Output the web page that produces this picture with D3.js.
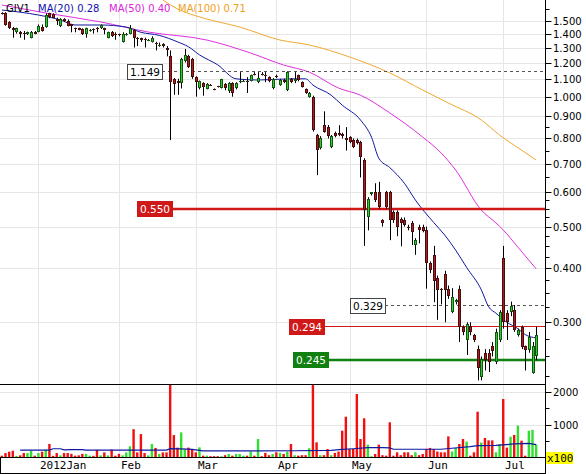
<!DOCTYPE html>
<html><head><meta charset="utf-8">
<script src="https://cdn.jsdelivr.net/npm/d3@7"></script>
<style>body{margin:0;background:#fff;} svg{display:block;}</style>
</head><body><svg id="c" width="586" height="474"></svg>
<script>
// ---------- DATA ----------
const open  = [1.56,1.563,1.49,1.445,1.41,1.415,1.405,1.40,1.37,1.415, 1.415,1.45,1.45,1.56,1.555,1.51,1.455,1.51,1.50,1.47, 1.44,1.44,1.435,1.40,1.425,1.435,1.445,1.44,1.44,1.37, 1.415,1.40,1.395,1.34,1.395,1.40,1.43,1.37,1.365,1.36, 1.35,1.34,1.335,1.31,1.325,1.30,1.24,1.10,1.09,1.075, 1.21,1.24,1.22,1.11,1.047,1.075,1.042,1.066,1.042,1.056, 1.047,1.07,1.03,1.075,1.045,1.08,1.09,1.09,1.09,1.13, 1.08,1.13,1.12,1.11,1.045,1.115,1.064,1.093,1.036,1.10, 1.09,1.122,1.08,1.04,0.998,0.998,0.815,0.76,0.859,0.85, 0.765,0.826,0.826,0.82,0.80,0.806,0.793,0.793,0.785,0.713, 0.525,0.595,0.60,0.60,0.518,0.60,0.60,0.54,0.54,0.52, 0.518,0.50,0.51,0.453,0.50,0.50,0.491,0.411,0.43,0.38, 0.359,0.388,0.359,0.317,0.335,0.359,0.292,0.273,0.294,0.28, 0.26,0.224,0.255,0.255,0.264,0.243,0.273,0.423,0.316,0.317, 0.32,0.281,0.292,0.264,0.259,0.229,0.25];
const high  = [1.57,1.57,1.495,1.45,1.445,1.42,1.42,1.415,1.42,1.42, 1.47,1.47,1.56,1.565,1.56,1.525,1.52,1.52,1.51,1.475, 1.445,1.445,1.44,1.445,1.435,1.44,1.45,1.47,1.445,1.415, 1.42,1.41,1.40,1.41,1.405,1.465,1.435,1.375,1.37,1.37, 1.36,1.38,1.34,1.335,1.33,1.31,1.28,1.105,1.10,1.23, 1.29,1.25,1.23,1.115,1.09,1.08,1.075,1.07,1.045,1.06, 1.10,1.075,1.08,1.08,1.08,1.14,1.095,1.11,1.125,1.14, 1.14,1.14,1.14,1.115,1.105,1.125,1.10,1.10,1.145,1.105, 1.14,1.125,1.085,1.045,1.025,1.005,0.82,0.81,0.925,0.86, 0.815,0.83,0.859,0.825,0.85,0.81,0.80,0.80,0.79,0.72, 0.585,0.60,0.63,0.635,0.52,0.605,0.605,0.545,0.545,0.525, 0.525,0.505,0.515,0.47,0.505,0.505,0.50,0.415,0.451,0.385, 0.36,0.395,0.365,0.36,0.34,0.365,0.295,0.30,0.30,0.282, 0.265,0.25,0.26,0.26,0.27,0.29,0.32,0.451,0.32,0.335, 0.329,0.29,0.295,0.265,0.285,0.27,0.293];
const low   = [1.55,1.46,1.435,1.37,1.40,1.37,1.355,1.39,1.365,1.395, 1.41,1.415,1.445,1.52,1.52,1.465,1.45,1.49,1.455,1.41, 1.41,1.425,1.39,1.37,1.415,1.40,1.41,1.435,1.395,1.365, 1.375,1.355,1.38,1.335,1.385,1.395,1.30,1.31,1.34,1.30, 1.345,1.335,1.28,1.305,1.30,1.24,0.793,1.01,1.01,1.045, 1.20,1.165,1.10,1.00,1.04,1.005,1.04,1.06,1.035,1.05, 1.045,1.035,1.02,1.00,1.04,1.075,1.085,1.02,1.085,1.12, 1.075,1.12,1.08,1.08,1.04,1.105,1.06,1.075,1.03,1.075, 1.075,1.085,1.05,1.015,0.995,0.83,0.658,0.755,0.825,0.80, 0.76,0.805,0.81,0.80,0.75,0.78,0.76,0.775,0.65,0.451, 0.49,0.59,0.57,0.55,0.50,0.55,0.465,0.51,0.475,0.45, 0.50,0.49,0.453,0.43,0.457,0.485,0.359,0.39,0.334,0.304, 0.33,0.30,0.34,0.315,0.33,0.27,0.28,0.252,0.28,0.27, 0.22,0.22,0.232,0.23,0.25,0.24,0.27,0.29,0.273,0.31, 0.285,0.278,0.26,0.232,0.255,0.228,0.245];
const close = [1.555,1.466,1.44,1.43,1.44,1.40,1.40,1.41,1.415,1.40, 1.46,1.42,1.545,1.53,1.525,1.50,1.515,1.50,1.46,1.46, 1.435,1.43,1.40,1.44,1.43,1.43,1.44,1.465,1.425,1.41, 1.38,1.395,1.39,1.40,1.40,1.44,1.37,1.365,1.355,1.355, 1.352,1.37,1.325,1.32,1.31,1.285,1.08,1.07,1.075,1.22, 1.25,1.17,1.11,1.08,1.086,1.055,1.071,1.064,1.04,1.055, 1.099,1.05,1.075,1.02,1.075,1.085,1.09,1.088,1.12,1.128, 1.105,1.125,1.115,1.085,1.10,1.11,1.093,1.08,1.14,1.08, 1.10,1.093,1.055,1.02,1.02,0.837,0.752,0.80,0.83,0.81, 0.81,0.81,0.815,0.81,0.795,0.785,0.765,0.78,0.725,0.546, 0.58,0.60,0.575,0.555,0.51,0.555,0.518,0.518,0.50,0.51, 0.504,0.498,0.487,0.465,0.49,0.488,0.411,0.397,0.374,0.357, 0.357,0.357,0.345,0.343,0.338,0.292,0.285,0.298,0.285,0.273, 0.235,0.247,0.245,0.243,0.257,0.285,0.317,0.30,0.30,0.327, 0.288,0.288,0.263,0.259,0.278,0.264,0.281];
// volume in units of x100
const volume = [55,135,175,205,50,65,135,135,205,55, 135,175,240,410,50,135,65,135,135,110, 55,65,110,110,55,50,230,65,155,65, 240,55,110,65,155,340,860,155,710,135, 65,410,290,110,155,155,2300,680,300,760, 250,300,258,157,308,55,55,40,40,40, 40,70,106,55,106,106,55,55,180,55, 560,40,140,70,106,157,140,106,180,410, 70,55,70,70,280,2300,460,70,70,258, 70,140,180,812,1237,253,258,1924,560,1187, 390,40,106,390,70,55,1067,55,157,70, 157,157,70,157,70,106,258,290,258,180, 157,157,640,180,290,410,560,480,55,157, 1388,455,590,520,520,157,408,1773,300,631, 683,965,510,55,812,840,390];
// moving averages: [bar index, value]
const ma20  = [[0,1.588],[10,1.546],[16,1.506],[20,1.466],[27,1.466],[34,1.45],[38,1.41],[43,1.387],[48,1.34],[51,1.305],[54,1.25],[59,1.185],[64,1.10],[70,1.093],[79,1.10],[83,1.10],[85,1.064],[90,1.008],[93,0.956],[98,0.883],[101,0.806],[103,0.72],[106,0.685],[110,0.63],[113,0.576],[118,0.511],[121,0.478],[124,0.441],[127,0.402],[131,0.357],[133,0.326],[135,0.315],[138,0.30],[141,0.29],[143,0.281],[146,0.276]];
const ma50  = [[0,1.631],[12,1.563],[27,1.49],[40,1.412],[56,1.353],[68,1.262],[77,1.184],[84,1.14],[92,1.047],[98,1.008],[106,0.917],[115,0.806],[120,0.741],[124,0.676],[131,0.546],[135,0.51],[137,0.491],[141,0.448],[146,0.399]];
const ma100 = [[44,1.675],[48,1.597],[55,1.522],[65,1.45],[76,1.353],[84,1.318],[95,1.236],[106,1.135],[115,1.036],[122,0.967],[131,0.883],[136,0.815],[142,0.752],[146,0.713]];
const volMA = [[5,225],[13,225],[14,265],[16,265],[17,230],[19,240],[22,240],[23,225],[45,225],[46,270],[49,260],[52,245],[55,200],[70,200],[80,205],[90,215],[93,245],[96,265],[100,300],[104,300],[106,290],[107,250],[120,250],[123,280],[128,330],[130,360],[135,370],[140,410],[144,430],[146,390]];
const monthLabels = ["2012Jan","Feb","Mar","Apr","May","Jun","Jul"];
const monthStart  = [10,32,53,75,95,116,137];
const priceTicks  = [0.3,0.4,0.5,0.6,0.7,0.8,0.9,1.0,1.1,1.2,1.3,1.4,1.5];
const priceTickLabels = ["0.300","0.400","0.500","0.600","0.700","0.800","0.900","1.000","1.100","1.200","1.300","1.400","1.500"];
const priceMinor = [0.225,0.25,0.275,0.325,0.35,0.375,0.425,0.45,0.475,0.525,0.55,0.575,0.65,0.75,0.85,1.6];
const volTicks = [1000,2000];
const volTickLabels = ["1000","2000"];
const volMinor = [500,1500];
const levels = [1.149,0.550,0.329,0.294,0.245];
const levelLabels = ["1.149","0.550","0.329","0.294","0.245"];
const legendNames = ["GIV1","MA(20) 0.28","MA(50) 0.40","MA(100) 0.71"];

// ---------- DRAW ----------
const svg = d3.select("#c");
const W = 586, H = 474, AX = 545.5;
const N = open.length;
const x = d3.scaleBand().domain(d3.range(N)).range([0, 538]);
const cx = i => x(i) + x.bandwidth()/2;
const y = d3.scaleLog().domain([0.3, 1.5]).range([322.3, 20.7]);
const yv = d3.scaleLinear().domain([0, 2000]).range([457.5, 391.5]);
const font = "DejaVu Sans, Verdana, sans-serif";
const mono = "DejaVu Sans Mono, monospace";

svg.append("rect").attr("width", W).attr("height", H).attr("fill", "#fff");
const defs = svg.append("defs");
defs.append("clipPath").attr("id","cm").append("rect").attr("x",0).attr("y",0).attr("width",AX).attr("height",384);
defs.append("clipPath").attr("id","cv").append("rect").attr("x",0).attr("y",385).attr("width",AX).attr("height",72.5);
defs.append("clipPath").attr("id","cx").append("rect").attr("x",546).attr("y",452).attr("width",27).attr("height",12);

// grid
const grid = svg.append("g").attr("stroke","#e6e6e6").attr("stroke-width",1);
priceTicks.forEach(t => {
  const yy = Math.round(y(t)) + 0.5;
  grid.append("line").attr("x1",0).attr("x2",AX).attr("y1",yy).attr("y2",yy);
});
volTicks.forEach(t => {
  const yy = Math.round(yv(t)) + 0.5;
  grid.append("line").attr("x1",0).attr("x2",AX).attr("y1",yy).attr("y2",yy);
});
monthStart.forEach(i => {
  const xx = Math.round(cx(i)) + 0.5;
  grid.append("line").attr("x1",xx).attr("x2",xx).attr("y1",0).attr("y2",457);
});

// main panel
const gm = svg.append("g").attr("clip-path","url(#cm)");

// MA lines
const lineP = d3.line().x(d => cx(d[0])).y(d => y(d[1])).curve(d3.curveMonotoneX);
gm.append("path").attr("d", lineP(ma100)).attr("fill","none").attr("stroke","#f0a830").attr("stroke-width",1);
gm.append("path").attr("d", lineP(ma50)).attr("fill","none").attr("stroke","#e030e0").attr("stroke-width",1);
gm.append("path").attr("d", lineP(ma20)).attr("fill","none").attr("stroke","#1018a0").attr("stroke-width",1);

// level lines
const lvlStyle = [
  {line:"#555", w:1, dash:"3,3", box:"#fff", boxStroke:"#444", text:"#000", bx:127},
  {line:"#d01818", w:2.5, dash:null, box:"#d01818", boxStroke:"#d01818", text:"#fff", bx:137},
  {line:"#555", w:1, dash:"3,3", box:"#fff", boxStroke:"#444", text:"#000", bx:350},
  {line:"#d01818", w:1, dash:null, box:"#d01818", boxStroke:"#d01818", text:"#fff", bx:289},
  {line:"#108010", w:2.5, dash:null, box:"#108010", boxStroke:"#108010", text:"#fff", bx:293}
];
levels.forEach((v, k) => {
  const s = lvlStyle[k];
  const yy = Math.round(y(v)) + (s.w === 1 ? 0.5 : 0);
  const bw = 35;
  svg.append("line").attr("x1", s.bx + bw).attr("x2", AX).attr("y1", yy).attr("y2", yy)
    .attr("stroke", s.line).attr("stroke-width", s.w).attr("stroke-dasharray", s.dash);
  svg.append("rect").attr("x", s.bx + 0.5).attr("y", Math.round(yy) - 7.5).attr("width", bw).attr("height", 15)
    .attr("fill", s.box).attr("stroke", s.boxStroke);
  svg.append("text").attr("x", s.bx + bw/2 + 0.5).attr("y", Math.round(yy) + 4)
    .attr("text-anchor","middle").attr("font-family", font).attr("font-size", 10.5)
    .attr("fill", s.text).text(levelLabels[k]);
});

// candles
const gc = svg.append("g").attr("clip-path","url(#cm)");
d3.range(N).forEach(i => {
  const xc = Math.round(cx(i));
  const o = open[i], c = close[i], h = high[i], l = low[i];
  const up = c >= o;
  gc.append("line").attr("x1", xc + 0.5).attr("x2", xc + 0.5)
    .attr("y1", y(h)).attr("y2", y(l)).attr("stroke", "#000").attr("stroke-width", 1);
  const y1 = Math.round(y(Math.max(o, c))), y2 = Math.round(y(Math.min(o, c)));
  if (y2 - y1 < 2) {
    gc.append("line").attr("x1", xc - 1).attr("x2", xc + 2).attr("y1", y1 + 0.5).attr("y2", y1 + 0.5)
      .attr("stroke", up ? "#106010" : "#501010");
  } else {
    gc.append("rect").attr("x", xc - 0.5).attr("y", y1 + 0.5).attr("width", 2).attr("height", y2 - y1 - 1)
      .attr("fill", up ? "#3cc43c" : "#a81c1c").attr("stroke", up ? "#0c5a0c" : "#4a0c0c").attr("stroke-width", 1);
  }
});

// volume
const gv = svg.append("g").attr("clip-path","url(#cv)");
d3.range(N).forEach(i => {
  const up = close[i] >= open[i];
  const top = yv(volume[i]);
  gv.append("rect").attr("x", cx(i) - 1.2).attr("y", top).attr("width", 2.4).attr("height", yv(0) - top)
    .attr("fill", up ? "#30e030" : "#f01010");
});
const lineV = d3.line().x(d => cx(d[0])).y(d => yv(d[1]));
gv.append("path").attr("d", lineV(volMA)).attr("fill","none").attr("stroke","#1018a0").attr("stroke-width",1.2);

// frame
const fr = svg.append("g").attr("stroke","#000").attr("stroke-width",1);
fr.append("line").attr("x1",0).attr("x2",AX).attr("y1",384.5).attr("y2",384.5);
fr.append("line").attr("x1",0).attr("x2",AX).attr("y1",457.5).attr("y2",457.5);
fr.append("line").attr("x1",0).attr("x2",AX).attr("y1",473.5).attr("y2",473.5);
fr.append("line").attr("x1",0.5).attr("x2",0.5).attr("y1",457.5).attr("y2",474);
fr.append("line").attr("x1",AX).attr("x2",AX).attr("y1",0).attr("y2",474);

// right axis (price)
priceTicks.forEach((t, k) => {
  const yy = Math.round(y(t)) + 0.5;
  svg.append("line").attr("x1",AX).attr("x2",AX + 6).attr("y1",yy).attr("y2",yy).attr("stroke","#000");
  svg.append("text").attr("x", 553).attr("y", yy + 3.5).attr("font-family", font).attr("font-size", 10)
    .attr("fill","#000").text(priceTickLabels[k]);
});
priceMinor.forEach(t => {
  const yy = Math.round(y(t)) + 0.5;
  svg.append("line").attr("x1",AX).attr("x2",AX + 4).attr("y1",yy).attr("y2",yy).attr("stroke","#000");
});
// right axis (volume)
volTicks.forEach((t, k) => {
  const yy = Math.round(yv(t)) + 0.5;
  svg.append("line").attr("x1",AX).attr("x2",AX + 6).attr("y1",yy).attr("y2",yy).attr("stroke","#000");
  svg.append("text").attr("x", 553).attr("y", yy + 3.5).attr("font-family", font).attr("font-size", 10)
    .attr("fill","#000").text(volTickLabels[k]);
});
volMinor.forEach(t => {
  const yy = Math.round(yv(t)) + 0.5;
  svg.append("line").attr("x1",AX).attr("x2",AX + 4).attr("y1",yy).attr("y2",yy).attr("stroke","#000");
});
// x100 box
svg.append("rect").attr("x",546).attr("y",452).attr("width",27).attr("height",12).attr("fill","#ffff00");
svg.append("text").attr("clip-path","url(#cx)").attr("x",547).attr("y",462).attr("font-family",mono)
  .attr("font-size",11).attr("fill","#000").text("x100");

// month labels
monthStart.forEach((i, k) => {
  svg.append("text").attr("x", Math.round(cx(i)) + 2).attr("y", 469).attr("font-family", mono)
    .attr("font-size", 11).attr("fill", "#000").text(monthLabels[k]);
});

// legend
const legX = [6, 38, 109, 178];
const legC = ["#000", "#1010b0", "#e020e0", "#f0a020"];
legendNames.forEach((t, k) => {
  svg.append("text").attr("x", legX[k]).attr("y", 12).attr("font-family", font).attr("font-size", 10)
    .attr("fill", legC[k]).text(t);
});
</script></body></html>
